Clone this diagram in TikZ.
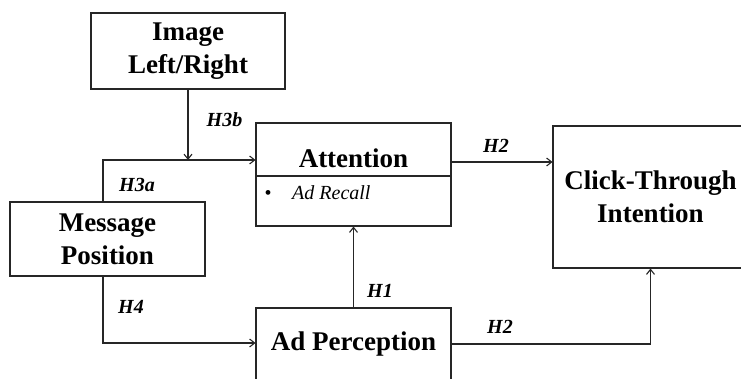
\documentclass[tikz,border=0pt]{standalone}
\usepackage{fontspec}
\setmainfont{Liberation Serif}
\usetikzlibrary{arrows.meta}
\definecolor{linec}{HTML}{262626}
\begin{document}
\begin{tikzpicture}[x=1pt,y=-1pt,
  box/.style={draw=linec, line width=1.1pt, minimum width=195, align=center,
    inner sep=0pt, font=\bfseries\fontsize{27}{33}\selectfont},
  hyp/.style={font=\bfseries\itshape\fontsize{20}{24}\selectfont, anchor=base, inner sep=0pt},
  link/.style={draw=linec, line width=1.1pt, -{Straight Barb[length=5pt,width=8pt]}}]
\clip (0,0) rectangle (741,379);
\fill[white] (0,0) rectangle (741,379);

% constructs
\node[box, minimum width=194, minimum height=76] (img) at (188,51) {Image\\Left/Right};
\node[box, minimum height=103] (att) at (353.5,174.5) {};
\node[anchor=base, inner sep=0pt, font=\bfseries\fontsize{27}{33}\selectfont] (attlbl) at (353.5,168) {Attention};
\coordinate (div) at (353.5,176);
\draw[draw=linec, line width=1.1pt] (att.west |- div) -- (att.east |- div);
\node[anchor=base, inner sep=0pt, font=\fontsize{20}{24}\selectfont] (bul) at (268,200) {•};
\node[anchor=base west, inner sep=0pt, font=\itshape\fontsize{20}{24}\selectfont] (recall) at (292,200) {Ad Recall};
\node[box, minimum height=74] (msg) at (107.5,239) {Message\\Position};
\node[box, minimum height=142] (cti) at (650.5,197) {Click-Through\\Intention};
\node[box, minimum height=72] (ap) at (353.5,344) {Ad Perception};

% junctions of the elbow connectors
\coordinate (j3) at (103,160);
\coordinate (j4) at (103,343);
\coordinate (h2a) at (451,162);

% paths
\draw[link] (img.south) -- (img.south |- j3);
\draw[link] (j3 |- msg.north) -- (j3) -- (j3 -| att.west);
\draw[link] (j3 |- msg.south) -- (j4) -- (j4 -| ap.west);
\draw[link] (ap.north) -- (att.south);
\draw[link] (h2a) -- (h2a -| cti.west);
\draw[link] (ap.east) -- (ap.east -| cti.south) -- (cti.south);

% hypothesis labels
\node[hyp] (lh3b) at (224.5,127) {H3b};
\node[hyp] (lh3a) at (137,192) {H3a};
\node[hyp] (lh4) at (131,313) {H4};
\node[hyp] (lh1) at (380,298) {H1};
\node[hyp] (lh2a) at (496,153) {H2};
\node[hyp] (lh2b) at (500,333) {H2};
\end{tikzpicture}
\end{document}
